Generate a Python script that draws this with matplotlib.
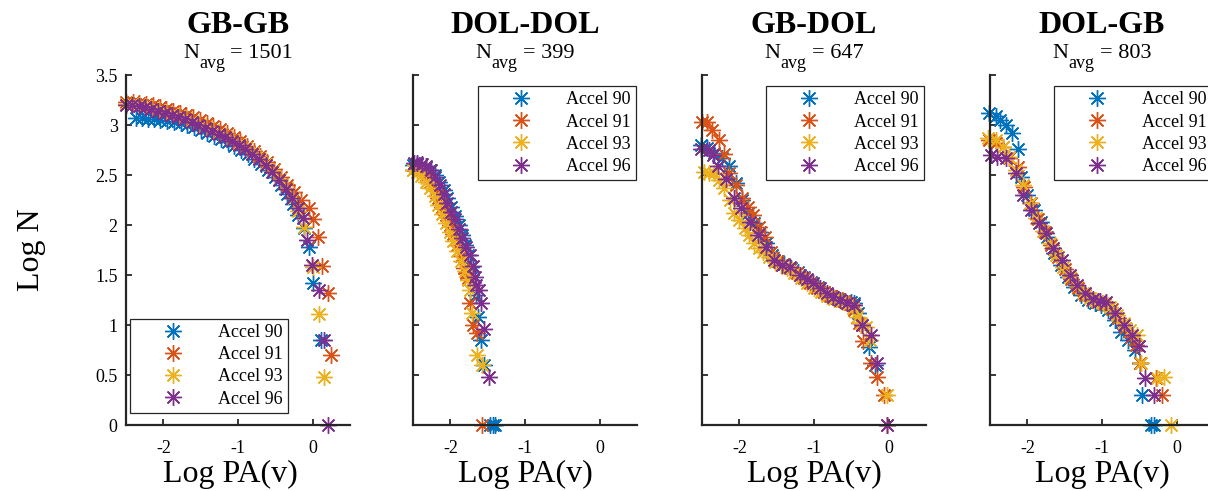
import matplotlib
matplotlib.use('Agg')
import matplotlib.pyplot as plt

plt.rcParams['font.family'] = ['Liberation Serif', 'DejaVu Serif']

W, H = 1208, 491

series_labels = ['Accel 90', 'Accel 91', 'Accel 93', 'Accel 96']
series_colors = ['#0072BD', '#D95319', '#EDB120', '#7E2F8E']
panel_titles = ['GB-GB', 'DOL-DOL', 'GB-DOL', 'DOL-GB']
panel_navg = [1501, 399, 647, 803]

# ---------------- GB-GB ----------------
gbgb_90_x = [-2.36, -2.28, -2.20, -2.12, -2.04, -1.95, -1.86, -1.77, -1.68, -1.59, -1.50, -1.41, -1.32, -1.23, -1.14,
             -1.05, -0.96, -0.87, -0.78, -0.69, -0.60, -0.51, -0.42, -0.34, -0.26, -0.19, -0.12, -0.05, 0.01, 0.11]
gbgb_90_y = [3.07, 3.07, 3.06, 3.06, 3.05, 3.04, 3.03, 3.02, 3.00, 2.98, 2.95, 2.92, 2.89, 2.86, 2.83,
             2.79, 2.75, 2.71, 2.66, 2.61, 2.55, 2.48, 2.40, 2.31, 2.21, 2.10, 1.97, 1.78, 1.42, 0.85]
gbgb_91_x = [-2.50, -2.41, -2.32, -2.23, -2.14, -2.05, -1.96, -1.87, -1.78, -1.69, -1.60, -1.51, -1.42, -1.33, -1.24,
             -1.15, -1.06, -0.97, -0.88, -0.79, -0.70, -0.61, -0.52, -0.43, -0.34, -0.25, -0.15, -0.05, 0.01, 0.07,
             0.13, 0.20, 0.25]
gbgb_91_y = [3.23, 3.23, 3.22, 3.21, 3.20, 3.18, 3.16, 3.14, 3.12, 3.10, 3.08, 3.05, 3.02, 2.99, 2.96,
             2.92, 2.88, 2.84, 2.79, 2.74, 2.69, 2.63, 2.56, 2.48, 2.40, 2.33, 2.25, 2.17, 2.06, 1.88,
             1.59, 1.32, 0.70]
gbgb_93_x = [-2.50, -2.42, -2.33, -2.24, -2.15, -2.06, -1.97, -1.88, -1.79, -1.70, -1.61, -1.52, -1.43, -1.34, -1.25,
             -1.16, -1.07, -0.98, -0.89, -0.80, -0.71, -0.62, -0.53, -0.44, -0.35, -0.27, -0.20, -0.12, 0.00, 0.08,
             0.15]
gbgb_93_y = [3.21, 3.21, 3.20, 3.19, 3.17, 3.15, 3.13, 3.11, 3.09, 3.07, 3.04, 3.01, 2.98, 2.95, 2.92,
             2.89, 2.85, 2.81, 2.77, 2.72, 2.67, 2.61, 2.54, 2.46, 2.37, 2.27, 2.14, 1.98, 1.58, 1.11,
             0.48]
gbgb_96_x = [-2.50, -2.42, -2.33, -2.25, -2.16, -2.07, -1.98, -1.89, -1.80, -1.71, -1.62, -1.53, -1.44, -1.35, -1.26,
             -1.17, -1.08, -0.99, -0.90, -0.81, -0.72, -0.63, -0.54, -0.45, -0.36, -0.28, -0.20, -0.13, -0.07, -0.01,
             0.08, 0.15, 0.21]
gbgb_96_y = [3.20, 3.20, 3.19, 3.18, 3.16, 3.14, 3.12, 3.10, 3.08, 3.06, 3.03, 3.00, 2.97, 2.94, 2.91,
             2.88, 2.84, 2.80, 2.76, 2.71, 2.66, 2.60, 2.53, 2.45, 2.36, 2.27, 2.17, 2.07, 1.85, 1.60,
             1.35, 0.85, 0.00]

# ---------------- DOL-DOL ----------------
doldol_90_x = [-2.50, -2.45, -2.39, -2.33, -2.27, -2.21, -2.15, -2.09, -2.04, -1.99, -1.94, -1.89, -1.84, -1.80,
               -1.76, -1.72, -1.69, -1.66, -1.63, -1.59, -1.55, -1.47, -1.43, -1.40]
doldol_90_y = [2.60, 2.61, 2.60, 2.58, 2.55, 2.50, 2.43, 2.35, 2.27, 2.18, 2.09, 2.00, 1.90, 1.80,
               1.70, 1.58, 1.45, 1.30, 1.08, 0.85, 0.60, 0.00, 0.00, 0.00]
doldol_91_x = [-2.50, -2.45, -2.39, -2.33, -2.27, -2.21, -2.16, -2.11, -2.06, -2.01, -1.96, -1.91, -1.86, -1.82,
               -1.79, -1.76, -1.73, -1.70, -1.64, -1.58]
doldol_91_y = [2.55, 2.57, 2.55, 2.50, 2.43, 2.35, 2.27, 2.18, 2.10, 2.00, 1.91, 1.80, 1.69, 1.57,
               1.52, 1.47, 1.22, 1.00, 0.92, 0.00]
doldol_93_x = [-2.50, -2.45, -2.39, -2.33, -2.27, -2.21, -2.16, -2.11, -2.06, -2.01, -1.96, -1.91, -1.86, -1.81,
               -1.77, -1.74, -1.71, -1.64, -1.58]
doldol_93_y = [2.55, 2.53, 2.49, 2.43, 2.37, 2.29, 2.20, 2.11, 2.02, 1.93, 1.84, 1.74, 1.64, 1.54,
               1.45, 1.35, 1.12, 0.70, 0.60]
doldol_96_x = [-2.49, -2.44, -2.38, -2.32, -2.26, -2.20, -2.14, -2.09, -2.04, -1.99, -1.94, -1.89, -1.84, -1.79,
               -1.74, -1.70, -1.67, -1.65, -1.62, -1.59, -1.55, -1.48]
doldol_96_y = [2.62, 2.62, 2.61, 2.59, 2.55, 2.48, 2.40, 2.31, 2.22, 2.13, 2.06, 1.96, 1.87, 1.78,
               1.70, 1.59, 1.48, 1.40, 1.35, 1.22, 0.96, 0.48]

# ---------------- GB-DOL ----------------
gbdol_90_x = [-2.52, -2.43, -2.34, -2.23, -2.14, -2.04, -1.96, -1.88, -1.80, -1.72, -1.64, -1.56, -1.48, -1.40, -1.31,
              -1.22, -1.13, -1.04, -0.95, -0.86, -0.77, -0.68, -0.59, -0.51, -0.47, -0.41, -0.36, -0.26, -0.18]
gbdol_90_y = [2.80, 2.77, 2.72, 2.67, 2.59, 2.42, 2.25, 2.12, 2.02, 1.93, 1.82, 1.70, 1.64, 1.61, 1.57,
              1.53, 1.48, 1.43, 1.38, 1.33, 1.29, 1.26, 1.24, 1.23, 1.22, 1.12, 1.00, 0.78, 0.60]
gbdol_91_x = [-2.50, -2.43, -2.36, -2.27, -2.21, -2.14, -2.04, -1.96, -1.89, -1.82, -1.73, -1.65, -1.57, -1.49, -1.41,
              -1.32, -1.23, -1.14, -1.05, -0.96, -0.87, -0.78, -0.69, -0.60, -0.52, -0.46, -0.40, -0.34, -0.24, -0.16,
              -0.06, -0.02]
gbdol_91_y = [3.03, 3.03, 2.95, 2.85, 2.71, 2.52, 2.40, 2.27, 2.18, 2.10, 1.98, 1.88, 1.73, 1.64, 1.61,
              1.57, 1.52, 1.47, 1.42, 1.37, 1.33, 1.29, 1.27, 1.24, 1.21, 1.15, 1.02, 0.84, 0.62, 0.48,
              0.30, 0.00]
gbdol_93_x = [-2.47, -2.40, -2.34, -2.27, -2.20, -2.13, -2.07, -2.00, -1.93, -1.87, -1.80, -1.74, -1.68, -1.60, -1.52,
              -1.44, -1.36, -1.27, -1.18, -1.09, -1.00, -0.91, -0.82, -0.73, -0.64, -0.55, -0.48, -0.42, -0.37, -0.31,
              -0.25, -0.02]
gbdol_93_y = [2.53, 2.52, 2.52, 2.45, 2.37, 2.25, 2.12, 2.05, 1.97, 1.90, 1.82, 1.77, 1.73, 1.68, 1.63,
              1.60, 1.57, 1.52, 1.47, 1.42, 1.37, 1.33, 1.29, 1.26, 1.24, 1.21, 1.17, 1.08, 1.02, 0.98,
              0.85, 0.30]
gbdol_96_x = [-2.52, -2.41, -2.35, -2.29, -2.18, -2.07, -1.98, -1.86, -1.75, -1.64, -1.53, -1.43, -1.32, -1.19, -1.10,
              -1.01, -0.92, -0.83, -0.74, -0.65, -0.56, -0.47, -0.36, -0.24, -0.16, -0.02]
gbdol_96_y = [2.76, 2.75, 2.70, 2.59, 2.46, 2.27, 2.17, 2.03, 1.90, 1.78, 1.65, 1.60, 1.58, 1.50, 1.46,
              1.42, 1.37, 1.32, 1.28, 1.25, 1.22, 1.20, 1.00, 0.90, 0.62, 0.00]

# ---------------- DOL-GB ----------------
dolgb_90_x = [-2.51, -2.42, -2.36, -2.29, -2.20, -2.13, -2.09, -2.00, -1.91, -1.82, -1.73, -1.64, -1.55, -1.46,
              -1.37, -1.28, -1.19, -1.10, -1.01, -0.92, -0.83, -0.74, -0.65, -0.56, -0.49, -0.46, -0.35, -0.31]
dolgb_90_y = [3.12, 3.09, 3.05, 3.00, 2.92, 2.76, 2.48, 2.30, 2.15, 2.03, 1.88, 1.72, 1.60, 1.48,
              1.38, 1.30, 1.25, 1.22, 1.20, 1.15, 1.05, 0.93, 0.85, 0.75, 0.62, 0.30, 0.00, 0.00]
dolgb_91_x = [-2.51, -2.42, -2.33, -2.24, -2.13, -2.04, -1.95, -1.86, -1.77, -1.68, -1.59, -1.50, -1.41, -1.32,
              -1.23, -1.14, -1.05, -0.96, -0.87, -0.78, -0.69, -0.61, -0.55, -0.49, -0.28, -0.19]
dolgb_91_y = [2.85, 2.82, 2.78, 2.67, 2.58, 2.38, 2.22, 2.06, 1.93, 1.80, 1.68, 1.56, 1.46, 1.37,
              1.30, 1.25, 1.23, 1.21, 1.16, 1.07, 0.97, 0.88, 0.80, 0.62, 0.47, 0.30]
dolgb_93_x = [-2.53, -2.42, -2.33, -2.24, -2.15, -2.06, -1.97, -1.88, -1.79, -1.70, -1.61, -1.52, -1.43, -1.34,
              -1.25, -1.16, -1.07, -0.98, -0.89, -0.80, -0.71, -0.62, -0.53, -0.48, -0.26, -0.17, -0.08]
dolgb_93_y = [2.87, 2.85, 2.78, 2.68, 2.55, 2.40, 2.22, 2.07, 1.94, 1.82, 1.70, 1.58, 1.48, 1.39,
              1.32, 1.27, 1.24, 1.22, 1.18, 1.10, 1.02, 0.95, 0.90, 0.62, 0.47, 0.48, 0.00]
dolgb_96_x = [-2.49, -2.40, -2.29, -2.15, -2.06, -1.95, -1.84, -1.75, -1.66, -1.54, -1.43, -1.34, -1.23, -1.12,
              -1.03, -0.94, -0.82, -0.71, -0.60, -0.51, -0.42, -0.31]
dolgb_96_y = [2.70, 2.68, 2.67, 2.52, 2.30, 2.15, 2.02, 1.92, 1.77, 1.65, 1.50, 1.40, 1.32, 1.26,
              1.24, 1.23, 1.12, 1.00, 0.90, 0.79, 0.47, 0.30]

panels = [
    [(gbgb_90_x, gbgb_90_y), (gbgb_91_x, gbgb_91_y), (gbgb_93_x, gbgb_93_y), (gbgb_96_x, gbgb_96_y)],
    [(doldol_90_x, doldol_90_y), (doldol_91_x, doldol_91_y), (doldol_93_x, doldol_93_y), (doldol_96_x, doldol_96_y)],
    [(gbdol_90_x, gbdol_90_y), (gbdol_91_x, gbdol_91_y), (gbdol_93_x, gbdol_93_y), (gbdol_96_x, gbdol_96_y)],
    [(dolgb_90_x, dolgb_90_y), (dolgb_91_x, dolgb_91_y), (dolgb_93_x, dolgb_93_y), (dolgb_96_x, dolgb_96_y)],
]

x_ticks = [-2, -1, 0]
x_tick_labels = ['-2', '-1', '0']
y_ticks = [0, 0.5, 1, 1.5, 2, 2.5, 3, 3.5]
y_tick_labels = ['0', '0.5', '1', '1.5', '2', '2.5', '3', '3.5']

fig = plt.figure(figsize=(W / 100, H / 100), dpi=100)
renderer = fig.canvas.get_renderer()

ax_left_px = [126, 413, 702, 990]
ax_w_px, ax_h_px = 224, 350
ax_bottom_px = 425
xlabel_shift_px = [-8, 0, 0, 0]
dark = '#262626'
ASTERISK = (8, 2, 0)

leg_cfg = [
    dict(loc='lower left', bbox_to_anchor=(0.018, 0.034)),
    dict(loc='upper right', bbox_to_anchor=(0.996, 0.969)),
    dict(loc='upper right', bbox_to_anchor=(0.990, 0.969)),
    dict(loc='upper right', bbox_to_anchor=(0.990, 0.969)),
]

for i, series in enumerate(panels):
    lpx = ax_left_px[i]
    ax = fig.add_axes([lpx / W, (H - ax_bottom_px) / H, ax_w_px / W, ax_h_px / H])
    handles = []
    for (xs, ys), c, lab in zip(series, series_colors, series_labels):
        h, = ax.plot(xs, ys, linestyle='none', marker=ASTERISK, markersize=12,
                     markeredgewidth=1.0, color=c, label=lab, clip_on=False)
        handles.append(h)
    ax.set_xlim(-2.5, 0.5)
    ax.set_ylim(0, 3.5)
    ax.set_xticks(x_ticks)
    ax.set_xticklabels(x_tick_labels)
    ax.set_yticks(y_ticks)
    if i == 0:
        ax.set_yticklabels(y_tick_labels)
    else:
        ax.set_yticklabels([])
    for s in ['top', 'right']:
        ax.spines[s].set_visible(False)
    for s in ['left', 'bottom']:
        ax.spines[s].set_linewidth(1.6)
        ax.spines[s].set_color(dark)
    ax.tick_params(axis='both', direction='in', length=4, width=1.3, color=dark,
                   labelsize=13, labelcolor='black')
    ax.tick_params(axis='x', pad=11)
    ax.tick_params(axis='y', pad=6)
    ax.patch.set_alpha(0)

    leg = ax.legend(handles=handles, fontsize=13, frameon=True, fancybox=False, shadow=False,
                    edgecolor=dark, framealpha=1, handlelength=4.15, handletextpad=0.4,
                    borderpad=0.3, labelspacing=0.29, borderaxespad=0, **leg_cfg[i])
    leg.get_frame().set_linewidth(0.9)

    xc = lpx + ax_w_px / 2
    fig.text((xc + xlabel_shift_px[i]) / W, 1 - 482 / H, 'Log PA(v)',
             ha='center', va='baseline', fontsize=23)

    fig.text(xc / W, 1 - 33 / H, panel_titles[i], fontsize=23, fontweight='bold',
             ha='center', va='baseline')

    parts = [('N', 16, 58), ('avg', 13, 68), ('= %d' % panel_navg[i], 16, 58)]
    gaps = [0, 5]
    objs = []
    for s, fs, yb in parts:
        objs.append(fig.text(0, 1 - yb / H, s, fontsize=fs, ha='left', va='baseline'))
    widths = [t.get_window_extent(renderer).width for t in objs]
    total = sum(widths) + sum(gaps)
    x = xc - total / 2
    for k, t in enumerate(objs):
        t.set_x(x / W)
        x += widths[k] + (gaps[k] if k < len(gaps) else 0)

fig.text(31 / W, 1 - 250 / H, 'Log N', rotation=90, ha='center', va='center', fontsize=23)

fig.savefig('out.png', dpi=100)
